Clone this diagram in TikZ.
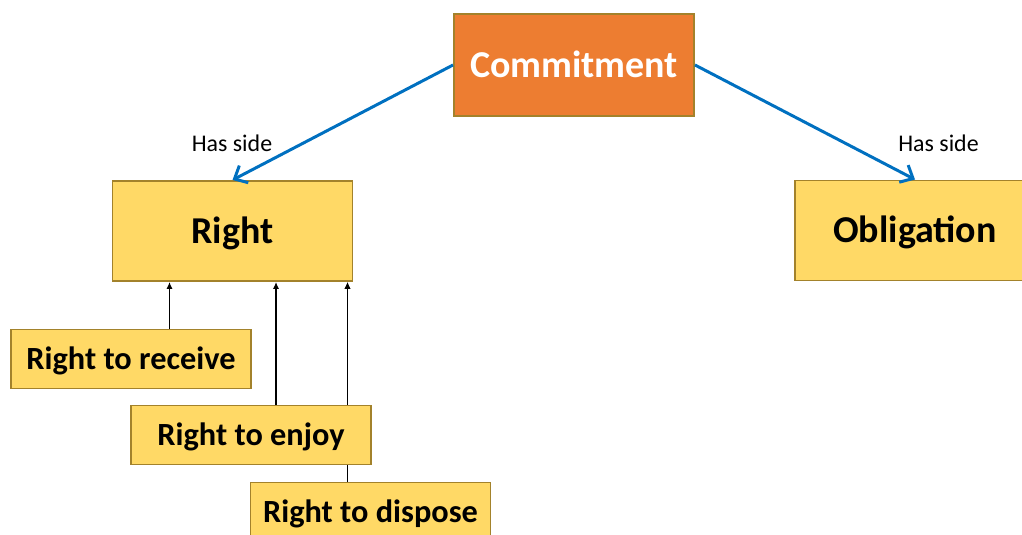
\documentclass[tikz,border=0pt]{standalone}
\usepackage{fontspec}
\setmainfont{Carlito}
\usepackage{tikz}
\usetikzlibrary{arrows.meta,positioning,calc,backgrounds}
\definecolor{cmorange}{HTML}{ED7D31}
\definecolor{cmyellow}{HTML}{FFD966}
\definecolor{cmborder}{HTML}{A3822B}
\definecolor{cmblue}{HTML}{0070C0}
\tikzset{
  cm/main/.style={
    draw=cmborder, fill=cmyellow, line width=1.1pt, align=center,
    inner sep=0pt, font=\fontsize{21.6}{25}\selectfont\bfseries,
    text height=13.9pt, text depth=0pt,
    minimum width=4.8cm, minimum height=2.0cm
  },
  cm/top/.style={
    cm/main, fill=cmorange, text=white, minimum height=2.04cm
  },
  cm/sub/.style={
    draw=cmborder, fill=cmyellow, line width=1.1pt, align=center,
    inner sep=0pt, font=\fontsize{18.4}{22}\selectfont\bfseries,
    text height=11.85pt, text depth=0pt,
    minimum width=4.8cm, minimum height=1.18cm
  },
  cm/lbl/.style={font=\fontsize{13.6}{16}\selectfont, inner sep=0pt},
  cm/side/.style={-{Straight Barb[length=6pt,width=11pt]}, cmblue, line width=1.7pt},
  cm/arr/.style={-{Latex[length=4pt,width=3.6pt]}, black, line width=1.1pt}
}
\begin{document}
\begin{tikzpicture}[x=1cm, y=1cm]
  \useasboundingbox (0,0) rectangle (20.44,10.68);

  % --- Commitment and its sides ---
  \node[cm/top] (commit) at (11.48,9.38) {Commitment};
  \node[cm/main] (right) at (4.65,6.06) {Right};
  \node[cm/main] (oblig) at (18.30,6.07) {Obligation};
  \node[cm/lbl] (hasl) at (4.64,7.82) {Has side};
  \node[cm/lbl] (hasr) at (18.77,7.82) {Has side};

  % --- Kinds of right ---
  \node[cm/sub] (recv) at (2.62,3.50) {Right to receive};
  \node[cm/sub] (enjoy) at (5.02,1.98) {Right to enjoy};
  \node[cm/sub] (disp) at (7.41,0.44) {Right to dispose};

  \draw[cm/side] (commit.west) -- (right.north);
  \draw[cm/side] (commit.east) -- (oblig.north);

  \begin{scope}[on background layer]
    \draw[cm/arr] ([xshift=0.77cm]recv.north) -- ([xshift=0.77cm]recv.north |- right.south);
    \draw[cm/arr] ([xshift=0.50cm]enjoy.north) -- ([xshift=0.50cm]enjoy.north |- right.south);
    \draw[cm/arr] ([xshift=1.93cm]enjoy.north) -- ([xshift=1.93cm]enjoy.north |- right.south);
    \draw[cm/arr] ([xshift=-0.46cm]disp.north) -- ([xshift=-0.46cm]disp.north |- right.south);
  \end{scope}
\end{tikzpicture}
\end{document}
